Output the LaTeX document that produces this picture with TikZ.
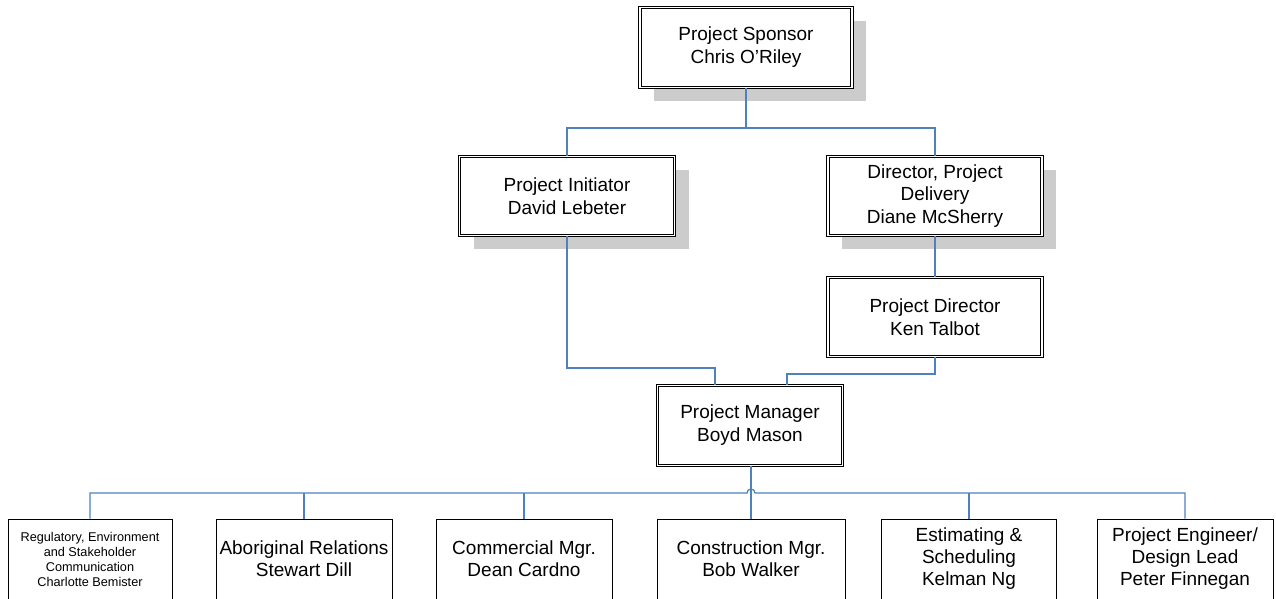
\documentclass[tikz,border=0pt]{standalone}
\usepackage{fontspec}
\setmainfont{Liberation Sans}
\usetikzlibrary{shadows}
\definecolor{connblue}{RGB}{79,129,189}
\definecolor{shadegray}{RGB}{204,204,204}
\begin{document}
\begin{tikzpicture}[x=1pt,y=-1pt,
  dbox/.style={draw=black, double=white, line width=1pt, double distance=1.6pt, fill=white,
    align=center, inner sep=0pt, font=\fontsize{19}{23}\selectfont},
  shbox/.style={dbox, drop shadow={shadow xshift=14pt, shadow yshift=-13pt, fill=shadegray, opacity=1}},
  sbox/.style={draw=black, line width=1pt, fill=white, align=center, inner sep=0pt,
    minimum height=80pt, font=\fontsize{19}{22}\selectfont},
  link/.style={draw=connblue, line width=1.3pt}]
\useasboundingbox (0,0) rectangle (1276,598);
\clip (0,0) rectangle (1276,598);
% upper boxes
\node[shbox, minimum width=212pt, minimum height=80pt] (sponsor) at (746,47.5) {Project Sponsor\\Chris O’Riley};
\node[shbox, minimum width=215pt, minimum height=79pt] (init) at (567,196) {Project Initiator\\David Lebeter};
\node[shbox, minimum width=214pt, minimum height=79pt, font=\fontsize{19}{22.5}\selectfont] (dpd) at (935,196) {Director, Project\\Delivery\\Diane McSherry};
\node[dbox, minimum width=214pt, minimum height=79pt] (pd) at (935,317) {Project Director\\Ken Talbot};
\node[dbox, minimum width=185pt, minimum height=80pt] (pm) at (750,425.5) {Project Manager\\Boyd Mason};
% bottom boxes
\node[sbox, minimum width=164pt, font=\fontsize{12.7}{15}\selectfont] (b1) at (90,559) {Regulatory, Environment\\and Stakeholder\\Communication\\Charlotte Bemister};
\node[sbox, minimum width=176pt] (b2) at (304,559) {Aboriginal Relations\\Stewart Dill};
\node[sbox, minimum width=176pt] (b3) at (524,559) {Commercial Mgr.\\Dean Cardno};
\node[sbox, minimum width=188pt] (b4) at (751,559) {Construction Mgr.\\Bob Walker};
\node[sbox, minimum width=175pt] (b5) at (969,559) {Estimating \&\\Scheduling\\Kelman Ng};
\node[sbox, minimum width=176pt] (b6) at (1185,559) {Project Engineer/\\Design Lead\\Peter Finnegan};
% junction coordinates
\coordinate (topbus) at (746,128);
\coordinate (jinit) at (715,368);
\coordinate (jpd) at (787,374);
\coordinate (hopL) at (747,493);
% connectors
\draw[link] (sponsor.south) -- (topbus);
\draw[link] (init.north) |- (topbus) -| (dpd.north);
\draw[link] (init.south) |- (jinit) -- (jinit |- pm.north);
\draw[link] (dpd.south) -- (pd.north);
\draw[link] (pd.south) |- (jpd) -- (jpd |- pm.north);
\draw[link] (b4.north |- pm.south) -- (b4.north);
\draw[link] (b1.north) |- (hopL) arc[start angle=180, end angle=0, radius=4pt] -| (b6.north);
\draw[link] (b2.north) -- (b2.north |- hopL);
\draw[link] (b3.north) -- (b3.north |- hopL);
\draw[link] (b5.north) -- (b5.north |- hopL);
\end{tikzpicture}
\end{document}
